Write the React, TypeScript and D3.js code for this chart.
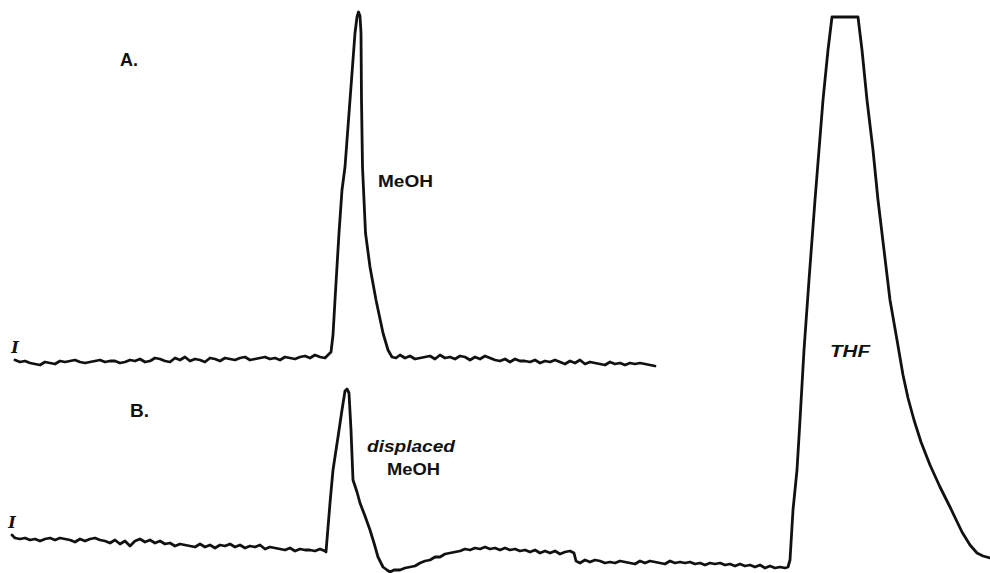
import React from "react";
import * as d3 from "d3";

// Chromatogram traces: retention time (min) vs detector response (arbitrary units)

// Trace A — methanol injection
const aTime = [
  0.1, 0.2, 0.3, 0.4, 0.5, 0.6, 0.7, 0.8, 0.9, 1.0,
  1.1, 1.2, 1.3, 1.4, 1.5, 1.6, 1.7, 1.8, 1.9, 2.0,
  2.1, 2.2, 2.3, 2.4, 2.5, 2.6, 2.7, 2.8, 2.9, 3.0,
  3.1, 3.2, 3.3, 3.4, 3.5, 3.6, 3.7, 3.8, 3.9, 4.0,
  4.1, 4.2, 4.3, 4.4, 4.5, 4.6, 4.7, 4.8, 4.9, 5.0,
  5.1, 5.2, 5.3, 5.4, 5.5, 5.6, 5.7, 5.8, 5.9, 6.0,
  6.1, 6.2, 6.3,
  6.36, 6.42, 6.46, 6.5, 6.58, 6.64, 6.7, 6.8, 6.9, 6.94,
  6.97, 7.0, 7.02, 7.03, 7.05, 7.11, 7.2, 7.32, 7.46, 7.56,
  7.64, 7.72,
  7.8, 7.9, 8.0, 8.1, 8.2, 8.3, 8.4, 8.5, 8.6, 8.7,
  8.8, 8.9, 9.0, 9.1, 9.2, 9.3, 9.4, 9.5, 9.6, 9.7,
  9.8, 9.9, 10.0, 10.1, 10.2, 10.3, 10.4, 10.5, 10.6, 10.7,
  10.8, 10.9, 11.0, 11.1, 11.2, 11.3, 11.4, 11.5, 11.6, 11.7,
  11.8, 11.9, 12.0, 12.1, 12.2, 12.3, 12.4, 12.5, 12.6, 12.7,
  12.8, 12.9,
];
const aSignal = [
  0.4, 0, 0.2, -0.2, -0.4, -0.6, 0, -0.2, -0.4, 0.2,
  0, 0.2, 0.4, 0, -0.2, 0, 0.2, 0.4, 0, 0.2,
  0.2, -0.2, 0, 0.4, 0.2, 0.6, 0, 0.2, 0.8, 0.6,
  0.2, 0, 0.8, 0.4, 1.0, 0.2, 0.6, 0.4, 0, 0.8,
  0.6, 0.2, 0.8, 0.6, 0.4, 0.8, 1.0, 0.4, 0.6, 0.8,
  1.0, 0.6, 0.8, 0.4, 1.0, 0.8, 0.6, 1.0, 1.2, 0.8,
  1.4, 1.0, 0.8,
  1.4, 2.0, 5.4, 12.4, 25.8, 34.4, 39.0, 52.4, 65.8, 69.0,
  70.0, 69.2, 65.8, 52.4, 39.0, 25.8, 19.0, 12.4, 5.8, 2.4,
  1.0, 0.8,
  1.4, 0.8, 1.2, 0.6, 0.8, 1.0, 1.2, 0.6, 1.4, 0.8,
  1.0, 0.6, 1.2, 1.0, 0.4, 1.0, 0.6, 1.2, 0.8, 0.4,
  0.2, 0.6, 0, 0.6, 0.2, 0.2, 0, 0.4, -0.2, 0.2,
  0, 0.4, 0, -0.4, 0.2, -0.2, 0.4, -0.4, 0, -0.2,
  -0.4, -0.6, 0, -0.4, -0.2, -0.6, -0.2, -0.4, -0.2, -0.4,
  -0.6, -0.8,
];

// Trace B — displaced methanol followed by the THF peak (off scale at its top)
const bTime = [
  0.04, 0.1, 0.2, 0.3, 0.4, 0.5, 0.6, 0.7, 0.8, 0.9,
  1.0, 1.1, 1.2, 1.3, 1.4, 1.5, 1.6, 1.7, 1.8, 1.9,
  2.0, 2.1, 2.2, 2.3, 2.4, 2.5, 2.6, 2.7, 2.8, 2.9,
  3.0, 3.1, 3.2, 3.3, 3.4, 3.5, 3.6, 3.7, 3.8, 3.9,
  4.0, 4.1, 4.2, 4.3, 4.4, 4.5, 4.6, 4.7, 4.8, 4.9,
  5.0, 5.1, 5.2, 5.3, 5.4, 5.5, 5.6, 5.7, 5.8, 5.9,
  6.0, 6.1, 6.2, 6.3,
  6.32, 6.4, 6.46, 6.56, 6.64, 6.7, 6.74, 6.78, 6.82, 6.86,
  6.94, 7.0, 7.1, 7.2, 7.28, 7.36, 7.46, 7.54, 7.6, 7.68,
  7.8, 7.9, 8.0, 8.1, 8.2, 8.3, 8.4, 8.5, 8.6, 8.7,
  8.8, 8.9, 9.0, 9.1, 9.2, 9.3, 9.4, 9.5, 9.6, 9.7,
  9.8, 9.9, 10.0, 10.1, 10.2, 10.3, 10.4, 10.5, 10.6, 10.7,
  10.8, 10.9, 11.0, 11.1, 11.2, 11.28, 11.32, 11.4, 11.5, 11.6,
  11.7, 11.8, 11.9, 12.0, 12.1, 12.2, 12.3, 12.4, 12.5, 12.6,
  12.7, 12.8, 12.9, 13.0, 13.1, 13.2, 13.3, 13.4, 13.5, 13.6,
  13.7, 13.8, 13.9, 14.0, 14.1, 14.2, 14.3, 14.4, 14.5, 14.6,
  14.7, 14.8, 14.9, 15.0, 15.1, 15.2, 15.3, 15.4, 15.5, 15.56,
  15.6, 15.66, 15.74, 15.8, 15.88, 15.98, 16.1, 16.18, 16.26, 16.36,
  16.44, 16.96,
  17.04, 17.14, 17.26, 17.36, 17.48, 17.6, 17.74, 17.86, 17.96, 18.08,
  18.22, 18.4, 18.6, 18.8, 19.04, 19.2, 19.34, 19.46, 19.6,
];
const bSignal = [
  5.0, 4.4, 4.2, 4.4, 4.0, 4.2, 3.8, 4.2, 4.4, 4.0,
  4.4, 4.2, 4.0, 3.6, 4.2, 3.8, 4.2, 4.4, 4.0, 3.8,
  3.4, 4.0, 3.2, 3.8, 2.8, 3.8, 4.2, 3.6, 4.0, 3.4,
  3.8, 3.2, 3.4, 2.8, 3.2, 3.0, 2.8, 2.6, 3.2, 2.6,
  3.0, 2.4, 3.0, 2.8, 3.2, 2.6, 3.0, 2.4, 2.8, 2.6,
  3.0, 2.2, 2.6, 2.4, 2.2, 2.0, 2.4, 1.8, 2.2, 2.0,
  2.0, 1.8, 2.2, 1.8,
  1.6, 11.4, 18.0, 24.6, 30.0, 33.8, 34.2, 33.4, 26.0, 16.0,
  13.6, 11.4, 8.8, 6.0, 3.4, 0.6, -1.4, -2.0, -2.4, -2.0,
  -2.0, -1.6, -1.4, -1.2, -0.6, -0.2, 0, 0.6, 0.6, 1.2,
  1.4, 1.6, 1.8, 2.2, 2.0, 2.4, 2.2, 2.6, 2.2, 2.4,
  2.0, 2.4, 2.0, 2.2, 1.8, 2.0, 1.6, 2.0, 1.4, 1.8,
  1.4, 1.8, 1.2, 1.6, 1.8, 1.4, -0.2, -0.6, 0, -0.4,
  0, -0.2, -0.6, -0.4, -0.6, -0.2, -0.4, -0.6, -0.8, -0.2,
  -0.6, -0.2, -0.4, -0.6, -0.8, -0.2, -0.6, -0.4, -0.6, -0.4,
  -0.8, -0.6, -1.0, -0.6, -0.8, -0.6, -1.0, -0.8, -1.2, -0.8,
  -1.2, -1.0, -1.4, -1.0, -1.6, -1.2, -1.6, -1.4, -1.6, -1.4,
  0, 10.0, 18.0, 28.0, 42.0, 56.0, 72.0, 82.0, 92.0, 102.0,
  108.6, 108.6,
  102.0, 92.0, 82.0, 72.0, 62.0, 52.0, 44.0, 37.0, 32.4, 28.0,
  23.6, 19.0, 14.6, 10.6, 5.6, 3.0, 1.4, 0.8, 0.4,
];

// Peak annotations: label lines, retention time and response where each sits
const panelLabels = ["A.", "B."];
const peakLabelsA = [{ lines: ["MeOH"], time: 7.36, value: 35.0 }];
const peakLabelsB = [
  { lines: ["displaced", "MeOH"], time: 8.02, value: 21.6 },
  { lines: ["THF"], time: 16.4, value: 40.6 },
];

const W = 990;
const H = 573;
const INK = "#111";

export default function App() {
  const x = d3.scaleLinear().domain([0, 19.6]).range([10, 990]);
  const yA = d3.scaleLinear().domain([0, 70]).range([362, 12]);
  const yB = d3.scaleLinear().domain([0, 108.6]).range([560, 17]);

  const lineA = d3
    .line<number>()
    .x((_, i) => x(aTime[i]))
    .y((d) => yA(d));
  const lineB = d3
    .line<number>()
    .x((_, i) => x(bTime[i]))
    .y((d) => yB(d));

  const sans = "'Liberation Sans', Arial, sans-serif";
  const serif = "'DejaVu Serif', 'Liberation Serif', serif";

  return (
    <svg
      width={W}
      height={H}
      viewBox={`0 0 ${W} ${H}`}
      style={{ position: "absolute", left: 0, top: 0, background: "#fff" }}
    >
      <rect width={W} height={H} fill="#fff" />

      <path
        d={lineA(aSignal) ?? ""}
        fill="none"
        stroke={INK}
        strokeWidth={2.8}
        strokeLinejoin="round"
        strokeLinecap="round"
      />
      <path
        d={lineB(bSignal) ?? ""}
        fill="none"
        stroke={INK}
        strokeWidth={2.8}
        strokeLinejoin="round"
        strokeLinecap="round"
      />

      {/* injection marks */}
      <text x={x(0.1)} y={yA(1.8)} fontFamily={serif} fontStyle="italic" fontWeight="bold" fontSize={16} fill={INK} textAnchor="middle">I</text>
      <text x={x(0.04)} y={yB(6.4)} fontFamily={serif} fontStyle="italic" fontWeight="bold" fontSize={16} fill={INK} textAnchor="middle">I</text>

      {/* panel letters */}
      <text x={x(2.2)} y={yA(59.2)} fontFamily={sans} fontWeight="bold" fontSize={18} fill={INK}>{panelLabels[0]}</text>
      <text x={x(2.4)} y={yB(28.6)} fontFamily={sans} fontWeight="bold" fontSize={19} fill={INK}>{panelLabels[1]}</text>

      {peakLabelsA.map((p) => (
        <text
          key={p.lines[0]}
          x={x(p.time)}
          y={yA(p.value)}
          fontFamily={sans}
          fontWeight="bold"
          fontSize={17}
          textLength={55}
          lengthAdjust="spacingAndGlyphs"
          fill={INK}
        >
          {p.lines[0]}
        </text>
      ))}

      {/* displaced MeOH: two centred lines */}
      <text
        x={x(peakLabelsB[0].time)}
        y={yB(peakLabelsB[0].value)}
        fontFamily={sans}
        fontStyle="italic"
        fontWeight="bold"
        fontSize={17}
        textAnchor="middle"
        textLength={88}
        lengthAdjust="spacingAndGlyphs"
        fill={INK}
      >
        {peakLabelsB[0].lines[0]}
      </text>
      <text
        x={x(peakLabelsB[0].time + 0.05)}
        y={yB(peakLabelsB[0].value) + 23}
        fontFamily={sans}
        fontWeight="bold"
        fontSize={17}
        textAnchor="middle"
        textLength={53}
        lengthAdjust="spacingAndGlyphs"
        fill={INK}
      >
        {peakLabelsB[0].lines[1]}
      </text>

      <text
        x={x(peakLabelsB[1].time)}
        y={yB(peakLabelsB[1].value)}
        fontFamily={sans}
        fontStyle="italic"
        fontWeight="bold"
        fontSize={16}
        textLength={40}
        lengthAdjust="spacingAndGlyphs"
        fill={INK}
      >
        {peakLabelsB[1].lines[0]}
      </text>
    </svg>
  );
}
